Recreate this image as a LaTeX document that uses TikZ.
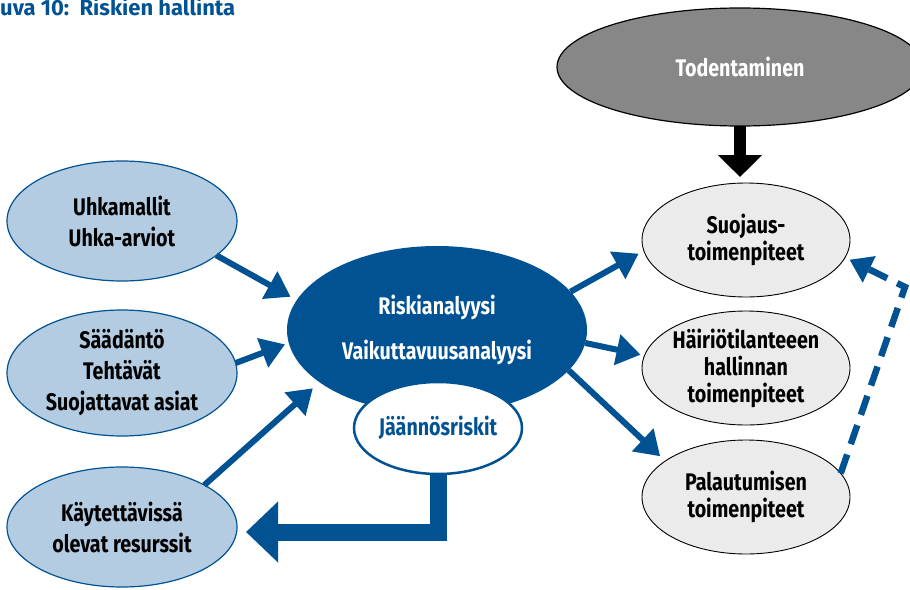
\documentclass[tikz,border=0pt]{standalone}
\usepackage{fontspec}
\setmainfont{Fira Sans}[FakeStretch=0.82]
\newfontfamily\titlefont{Fira Sans}
\usetikzlibrary{shapes.geometric,arrows.meta}
\definecolor{dblue}{RGB}{0,82,147}
\definecolor{lblue}{RGB}{179,204,225}
\definecolor{tgray}{RGB}{135,135,135}
\definecolor{lgray}{RGB}{235,235,235}
\tikzset{
  base/.style={ellipse, inner sep=0pt, outer sep=0pt, align=center},
  leftbox/.style={base, draw=dblue, line width=1.2pt, fill=lblue,
    minimum width=230pt, minimum height=120pt,
    font=\bfseries\fontsize{24}{31}\selectfont},
  rightbox/.style={base, draw=black, line width=0.9pt, fill=lgray,
    minimum width=208pt, minimum height=114pt,
    font=\bfseries\fontsize{24}{27}\selectfont},
  centrebox/.style={base, fill=dblue, text=white,
    minimum width=300pt, minimum height=168pt,
    font=\bfseries\fontsize{24}{45}\selectfont},
  residbox/.style={base, draw=dblue, line width=2.5pt, fill=white, text=dblue,
    minimum width=168pt, minimum height=92pt,
    font=\bfseries\fontsize{24}{30}\selectfont},
  verifbox/.style={base, draw=black, line width=1.2pt, fill=tgray, text=white,
    minimum width=366pt, minimum height=118pt,
    font=\bfseries\fontsize{24}{30}\selectfont},
  barrow/.style={draw=dblue, line width=6pt,
    -{Triangle[length=24pt,width=30pt]}},
  karrow/.style={draw=black, line width=12pt,
    -{Triangle[length=22pt,width=43pt]}},
  bigarrow/.style={draw=dblue, line width=17pt, line join=miter,
    -{Triangle[length=32pt,width=59pt]}},
  dasharrow/.style={draw=dblue, line width=6.5pt, dash pattern=on 20pt off 11pt,
    -{Triangle[length=22pt,width=28pt]}}
}
\begin{document}
\begin{tikzpicture}[x=1pt,y=-1pt]
\useasboundingbox (0,0) rectangle (910,589);

\node[anchor=base west, text=dblue, inner sep=0pt,
  font=\titlefont\bfseries\fontsize{22}{24}\selectfont] (title) at (0,16) {uva 10:\ \ Riskien hallinta};

\node[leftbox] (uh) at (122,221) {Uhkamallit\\Uhka-arviot};
\node[leftbox, minimum height=126pt] (sa) at (122,373) {Säädäntö\\Tehtävät\\Suojattavat asiat};
\node[leftbox] (ka) at (122,527) {Käytettävissä\\olevat resurssit};

\node[centrebox] (ra) at (437,330) {Riskianalyysi\\Vaikuttavuusanalyysi};
\node[residbox] (jr) at (438,428) {Jäännösriskit};

\node[verifbox] (to) at (740,67) {Todentaminen};
\node[rightbox] (su) at (746,240) {Suojaus-\\toimenpiteet};
\node[rightbox] (ha) at (746,368) {Häiriötilanteeen\\hallinnan\\toimenpiteet};
\node[rightbox] (pa) at (746,497) {Palautumisen\\toimenpiteet};

\draw[barrow, shorten >=7pt] (uh.-20) -- (ra.168);
\draw[barrow, shorten >=4pt] (sa.5) -- (ra.185);
\draw[barrow, shorten >=9pt] (ka.27) -- (ra.204);

\draw[barrow, shorten >=6pt] (ra.16) -- (su.186);
\draw[barrow, shorten >=4pt] (ra.-5) -- (ha.173);
\draw[barrow, shorten >=7pt] (ra.-17) -- (pa.156);

\draw[karrow, shorten >=6pt] (to.south) -- (to.south |- su.north);

\draw[bigarrow] (jr.south) |- ([xshift=9pt,yshift=-5pt]ka.east);

\coordinate (dc) at (905,287);
\draw[dasharrow, shorten >=5pt] (pa.14) -- (dc) -- (su.-10);
\end{tikzpicture}
\end{document}
